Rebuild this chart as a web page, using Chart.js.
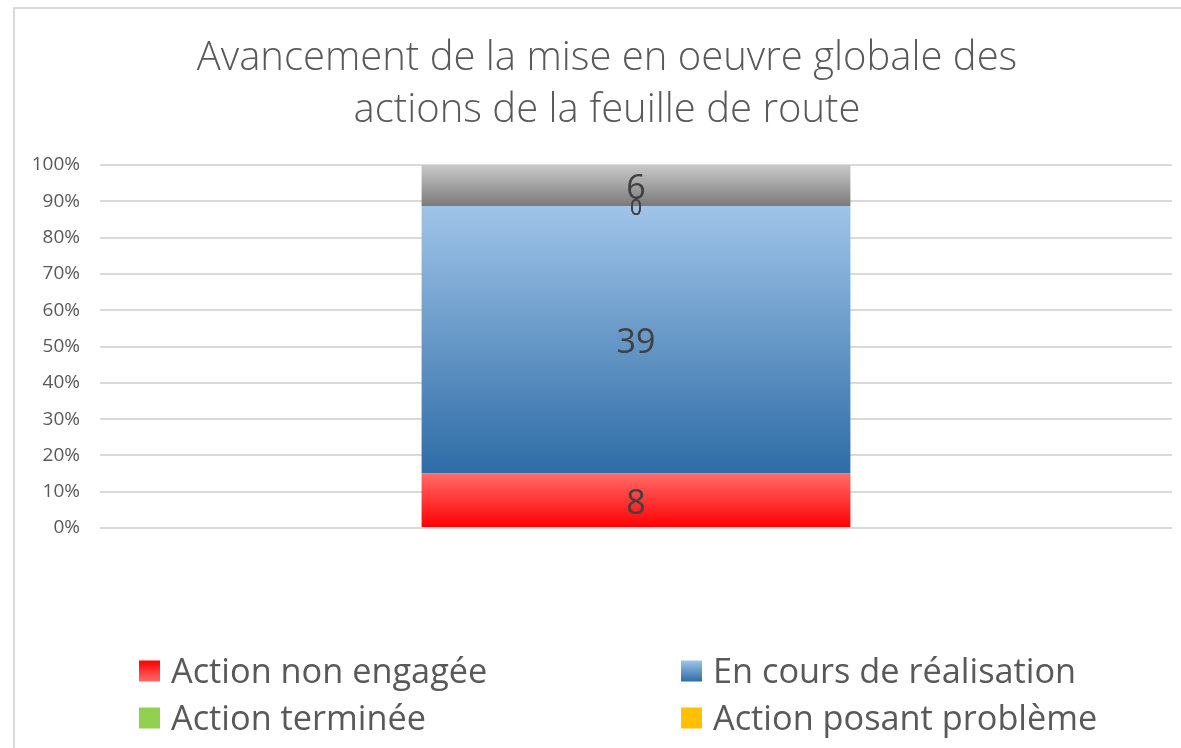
<!DOCTYPE html>
<html>
<head>
<meta charset="utf-8">
<script src="https://cdn.jsdelivr.net/npm/chart.js@4.4.1/dist/chart.umd.min.js"></script>
<style>
  html, body { margin: 0; padding: 0; background: #fff; overflow: hidden; }
  #frame {
    position: absolute; left: 13px; top: 7px;
    width: 1184px; height: 741px;
    border-top: 2px solid #d9d9d9; border-left: 2px solid #d9d9d9;
  }
  #chart { display: block; }
</style>
</head>
<body>
<div id="frame"><canvas id="chart" width="1184" height="741"></canvas></div>
<script>
// one bar, values are action counts
const categories = [''];
const seriesNames = ['Action non engagée', 'En cours de réalisation', 'Action terminée', 'Action posant problème', 'Non renseignée'];
const nonEngagee = [8];
const enCours = [39];
const terminee = [0];
const probleme = [0];
const nonRenseignee = [6];
const yTicks = [0, 10, 20, 30, 40, 50, 60, 70, 80, 90, 100];
const titleLines = ['Avancement de la mise en oeuvre globale des', 'actions de la feuille de route'];

const counts = [nonEngagee, enCours, terminee, probleme, nonRenseignee];
const inLegend = [true, true, true, true, false];

// fill: [top colour, bottom colour]
const fills = [
  ['#ff6b6b', '#ff0000'],
  ['#a0c4e8', '#2e6ca6'],
  ['#92d050', '#92d050'],
  ['#ffc000', '#ffc000'],
  ['#c9c9c9', '#7a7a7a']
];

const FONT = "'Open Sans'";

const totals = categories.map((c, i) => counts.reduce((s, arr) => s + arr[i], 0));
const percents = counts.map(arr => arr.map((v, i) => v / totals[i] * 100));

// pick a font size so a string comes out at a given width
function fitSize(text, weight, width) {
  const m = document.createElement('canvas').getContext('2d');
  m.font = weight + ' 100px ' + FONT;
  return Math.round(100 * width / m.measureText(text).width * 10) / 10;
}
const titleSize = fitSize(titleLines[0], '300', 821);
const legendSize = fitSize(seriesNames[0], '400', 316);

function segFill(ctx) {
  const chart = ctx.chart;
  const f = fills[ctx.datasetIndex];
  if (!chart.chartArea) return f[0];
  const y = chart.scales.y;
  let start = 0;
  for (let d = 0; d < ctx.datasetIndex; d++) start += percents[d][ctx.dataIndex];
  const end = start + percents[ctx.datasetIndex][ctx.dataIndex];
  const yTop = y.getPixelForValue(end);
  const yBot = y.getPixelForValue(start);
  if (yBot - yTop < 1) return f[0];
  const g = chart.ctx.createLinearGradient(0, yTop, 0, yBot);
  g.addColorStop(0, f[0]);
  g.addColorStop(1, f[1]);
  return g;
}

const valueLabels = {
  id: 'valueLabels',
  afterDatasetsDraw(chart) {
    const c = chart.ctx;
    c.save();
    c.textAlign = 'center';
    c.textBaseline = 'middle';
    c.fillStyle = '#404040';
    chart.data.datasets.forEach((ds, di) => {
      const meta = chart.getDatasetMeta(di);
      meta.data.forEach((bar, i) => {
        const v = counts[di][i];
        const mid = (bar.y + bar.base) / 2;
        if (v === 0) {
          c.font = '21px ' + FONT;
          c.fillText('0', bar.x, mid + 3);
        } else {
          c.font = '34px ' + FONT;
          c.fillText(String(v), bar.x, mid + 4);
        }
      });
    });
    c.restore();
  }
};

// two-column legend like the spreadsheet one
const gridLegend = {
  id: 'gridLegend',
  afterDraw(chart) {
    const c = chart.ctx;
    const colX = [124, 666];
    const rowY = [662, 709];
    const box = 21;
    c.save();
    c.font = legendSize + 'px ' + FONT;
    c.textBaseline = 'middle';
    let k = 0;
    seriesNames.forEach((name, di) => {
      if (!inLegend[di]) return;
      const x = colX[k % 2];
      const y = rowY[Math.floor(k / 2)];
      const f = fills[di];
      const g = c.createLinearGradient(0, y - box / 2, 0, y + box / 2);
      if (di === 0) { g.addColorStop(0, f[1]); g.addColorStop(1, f[0]); }
      else { g.addColorStop(0, f[0]); g.addColorStop(1, f[1]); }
      c.fillStyle = g;
      c.fillRect(x, y - box / 2, box, box);
      c.fillStyle = '#595959';
      c.fillText(name, x + 32, y + 2);
      k++;
    });
    c.restore();
  }
};

new Chart(document.getElementById('chart'), {
  type: 'bar',
  data: {
    labels: categories,
    datasets: seriesNames.map((name, di) => ({
      label: name,
      data: percents[di],
      backgroundColor: segFill,
      borderWidth: 0,
      barPercentage: 0.4,
      categoryPercentage: 1
    }))
  },
  options: {
    responsive: false,
    animation: false,
    layout: { padding: { left: 0, right: 0, top: 0, bottom: 222 } },
    plugins: {
      legend: { display: false },
      tooltip: { enabled: false },
      title: {
        display: true,
        text: titleLines,
        color: '#595959',
        font: { family: FONT, size: titleSize, weight: '300', lineHeight: '52px' },
        padding: { top: 24, bottom: 28 }
      }
    },
    scales: {
      x: { stacked: true, display: false },
      y: {
        stacked: true,
        min: 0,
        max: 100,
        afterBuildTicks(scale) { scale.ticks = yTicks.map(v => ({ value: v })); },
        afterFit(scale) { scale.width = 85; },
        border: { display: false },
        grid: { color: '#d9d9d9', lineWidth: 2, drawTicks: false },
        ticks: {
          padding: 20,
          color: '#595959',
          font: { family: FONT, size: 19 },
          callback: v => v + '%'
        }
      },
      // empty right margin so the title stays centred on the whole frame
      yRight: {
        position: 'right',
        grid: { display: false },
        border: { display: false },
        ticks: { display: false },
        afterFit(scale) { scale.width = 27; }
      }
    }
  },
  plugins: [valueLabels, gridLegend]
});
</script>
</body>
</html>
